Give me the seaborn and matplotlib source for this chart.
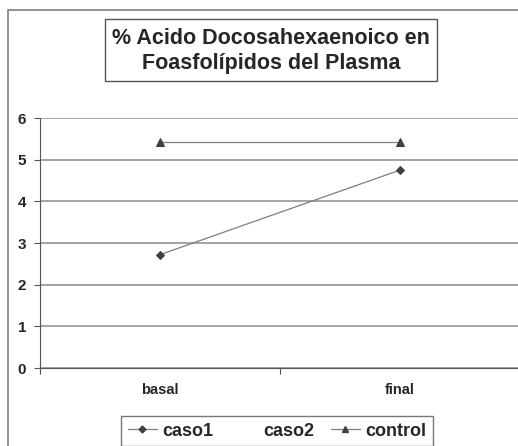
import seaborn as sns
import matplotlib.pyplot as plt
import matplotlib.patches as patches
from matplotlib.lines import Line2D
import pandas as pd
import numpy as np

# datos
momentos = ["basal", "final"]
caso1 = [2.72, 4.75]
caso2 = [np.nan, np.nan]
control = [5.42, 5.42]

datos = pd.DataFrame({
    "momento": momentos * 3,
    "valor": caso1 + caso2 + control,
    "serie": ["caso1"] * 2 + ["caso2"] * 2 + ["control"] * 2,
})

sns.set_style("white")
plt.rcParams['font.family'] = ['Liberation Sans', 'DejaVu Sans']

fig = plt.figure(figsize=(5.18, 4.46), dpi=100)
ax = fig.add_axes([40/518, 1-368/446, 480/518, 250/446])

pos = {m: i for i, m in enumerate(momentos)}
datos["x"] = datos["momento"].map(pos)

sns.lineplot(data=datos[datos.serie == "caso1"], x="x", y="valor", ax=ax,
             color="#7f7f7f", lw=0.9, marker="D", markersize=4,
             markerfacecolor="#404040", markeredgecolor="#404040", legend=False)
sns.lineplot(data=datos[datos.serie == "control"], x="x", y="valor", ax=ax,
             color="#7f7f7f", lw=0.9, marker="^", markersize=6,
             markerfacecolor="#404040", markeredgecolor="#404040", legend=False)

ax.set_xlim(-0.5, 1.5)
ax.set_ylim(0, 6)
ax.set_yticks(range(0, 7))
ax.set_xticks([-0.5, 0.5, 1.5])
ax.set_xticklabels([])
ax.set_xticks([0, 1], minor=True)
ax.set_xticklabels(momentos, minor=True, fontsize=10.5, fontweight="bold")
ax.tick_params(axis="x", which="minor", length=0, pad=11)
ax.tick_params(axis="x", which="major", length=4, direction="out", color="#555555", bottom=True)
ax.tick_params(axis="y", length=4, direction="out", color="#555555", left=True,
               labelsize=11, pad=6)
for lab in ax.get_yticklabels():
    lab.set_fontweight("bold")
ax.set_xlabel("")
ax.set_ylabel("")
ax.yaxis.grid(True, color="#8c8c8c", lw=1.1)
ax.set_axisbelow(True)
for s in ["top", "right"]:
    ax.spines[s].set_visible(False)
ax.spines["left"].set_color("#555555")
ax.spines["bottom"].set_color("#555555")

# marco exterior
fig.patches.append(patches.Rectangle((8/518, -0.05), 1.1, 1-10/446+0.05,
                                     transform=fig.transFigure, fill=False,
                                     edgecolor="#808080", lw=1.2))

# titulo con recuadro
fig.patches.append(patches.Rectangle((105/518, 1-81/446), 332/518, 62/446,
                                     transform=fig.transFigure, fill=False,
                                     edgecolor="#555555", lw=1))
fig.text(271/518, 1-51/446, "% Acido Docosahexaenoico en\nFoasfolípidos del Plasma",
         ha="center", va="center", fontsize=15.5, fontweight="bold", linespacing=1.2)

# leyenda
handles = [
    Line2D([], [], color="#7f7f7f", lw=0.9, marker="D", markersize=3.5,
           markerfacecolor="#404040", markeredgecolor="#404040"),
    Line2D([], [], color="white", lw=0.9),
    Line2D([], [], color="#7f7f7f", lw=0.9, marker="^", markersize=4.5,
           markerfacecolor="#404040", markeredgecolor="#404040"),
]
leg = fig.legend(handles, ["caso1", "caso2", "control"], ncol=3,
                 loc="center", bbox_to_anchor=(277/518, 1-431/446),
                 frameon=True, fancybox=False, handlelength=1.6,
                 handletextpad=0.3, columnspacing=0.9, borderpad=0.35,
                 prop={"weight": "bold", "size": 13})
leg.get_frame().set_edgecolor("#555555")
leg.get_frame().set_linewidth(1)

plt.savefig("out.png", dpi=100)
